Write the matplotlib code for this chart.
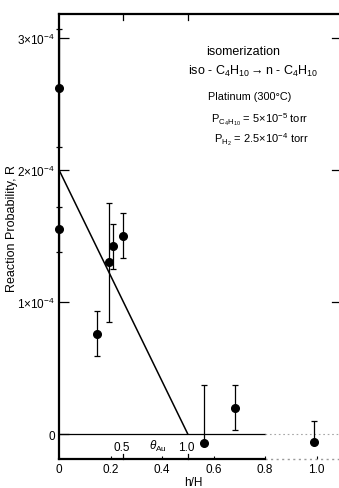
import matplotlib
matplotlib.use("Agg")
import matplotlib.pyplot as plt
import matplotlib.transforms as mtransforms

plt.rcParams['font.family'] = ['Liberation Sans', 'DejaVu Sans']
plt.rcParams['mathtext.fontset'] = 'custom'
plt.rcParams['mathtext.rm'] = 'Liberation Sans'
plt.rcParams['mathtext.it'] = 'Liberation Sans:italic'
plt.rcParams['mathtext.bf'] = 'Liberation Sans:bold'

# Reaction probability (units of 1e-4) versus hydrogen coverage h/H
h_over_H = [0.0, 0.0, 0.148, 0.194, 0.210, 0.249, 0.563, 0.683, 0.990]
R_val = [2.62, 1.55, 0.76, 1.30, 1.42, 1.50, -0.07, 0.20, -0.06]
R_err_low = [0.45, 0.17, 0.17, 0.45, 0.17, 0.17, 0.0, 0.17, 0.0]
R_err_high = [0.45, 0.17, 0.17, 0.45, 0.17, 0.17, 0.44, 0.17, 0.16]

# straight-line fit: 2e-4 at h/H = 0, reaching zero at theta_Au = 1
fit_x = [0.0, 0.5]
fit_R = [2.0, 0.0]

x_ticks = [0.0, 0.2, 0.4, 0.6, 0.8, 1.0]
x_tick_labels = ['0', '0.2', '0.4', '0.6', '0.8', '1.0']
y_ticks = [0, 1, 2, 3]
y_tick_labels = ['0', r'$1{\times}10^{-4}$', r'$2{\times}10^{-4}$', r'$3{\times}10^{-4}$']
theta_ticks = [0.5, 1.0]
theta_tick_labels = ['0.5', '1.0']

XMAX = 1.087
YMIN, YMAX = -0.189, 3.18

fig = plt.figure(figsize=(3.39, 4.89), dpi=100)
ax = fig.add_axes([59 / 339, 29 / 489, 280 / 339, 445 / 489])
ax.set_xlim(0, XMAX)
ax.set_ylim(YMIN, YMAX)

for side in ('left', 'top'):
    ax.spines[side].set_linewidth(1.6)
ax.spines['right'].set_visible(False)
ax.spines['bottom'].set_linewidth(1.6)
ax.spines['bottom'].set_bounds(0, 0.8)

bx = mtransforms.blended_transform_factory(ax.transData, ax.transAxes)
by = mtransforms.blended_transform_factory(ax.transAxes, ax.transData)

# faded right-hand part of the bottom frame
ax.plot([0.8, XMAX], [0, 0], transform=bx, color='0.6', lw=1.0,
        ls=(0, (1.5, 2.5)), clip_on=False)

# zero reference line
ax.plot([0, 0.8], [0, 0], color='black', lw=0.9)
ax.plot([0.8, XMAX], [0, 0], color='0.65', lw=0.8, ls=(0, (1.5, 2.5)))

ax.set_xticks(x_ticks)
ax.set_xticklabels(x_tick_labels)
ax.set_yticks(y_ticks)
ax.set_yticklabels(y_tick_labels)
ax.tick_params(axis='x', direction='in', length=2, width=0.8, pad=3, labelsize=8.5)
ax.tick_params(axis='y', direction='in', length=7, width=0.9, pad=3,
               left=True, right=False, labelsize=8.5)

# right-hand ticks at the labelled non-zero levels
for y in y_ticks[1:]:
    ax.plot([1, 1 - 0.025], [y, y], transform=by, color='black', lw=0.9,
            clip_on=False)

# theta_Au scale: ticks on the bottom (labelled) and top frame
for t, lab in zip(theta_ticks, theta_tick_labels):
    ax.plot([t / 2, t / 2], [0, 0.012], transform=bx, color='black', lw=0.9,
            clip_on=False)
    ax.plot([t / 2, t / 2], [1, 1 - 0.014], transform=bx, color='black', lw=0.9,
            clip_on=False)
    ax.text(t / 2 - 0.006, 0.026, lab, transform=bx, ha='center', va='center',
            fontsize=8.5)
ax.text(0.384, 0.031, r'$\theta_{\mathrm{Au}}$', transform=bx, ha='center',
        va='center', fontsize=8.5)

ax.plot(fit_x, fit_R, color='black', lw=1.1)

cont = ax.errorbar(h_over_H, R_val, yerr=[R_err_low, R_err_high], fmt='o',
                   color='black', ms=5.5, elinewidth=0.9, capsize=2.3,
                   capthick=0.9)
for art in cont.get_children():
    art.set_clip_on(False)

# reaction conditions
notes = [
    (0.657, 0.917, 'isomerization', 9),
    (0.693, 0.874, r'iso - C$_4$H$_{10}$$\rightarrow$n - C$_4$H$_{10}$', 9),
    (0.682, 0.816, 'Platinum (300°C)', 7.8),
    (0.718, 0.766, r'P$_{\mathrm{C_4H_{10}}}$ = 5$\times$10$^{-5}$ torr', 8),
    (0.721, 0.721, r'P$_{\mathrm{H_2}}$ = 2.5$\times$10$^{-4}$ torr', 8),
]
for x, y, s, fs in notes:
    ax.text(x, y, s, transform=ax.transAxes, ha='center', va='center',
            fontsize=fs)

fig.text(12 / 339, 1 - 229 / 489, 'Reaction Probability, R', rotation=90,
         ha='center', va='center', fontsize=9)
fig.text(193 / 339, 1 - 483 / 489, 'h/H', ha='center', va='center',
         fontsize=8.5)

fig.savefig('out.png', dpi=100)
